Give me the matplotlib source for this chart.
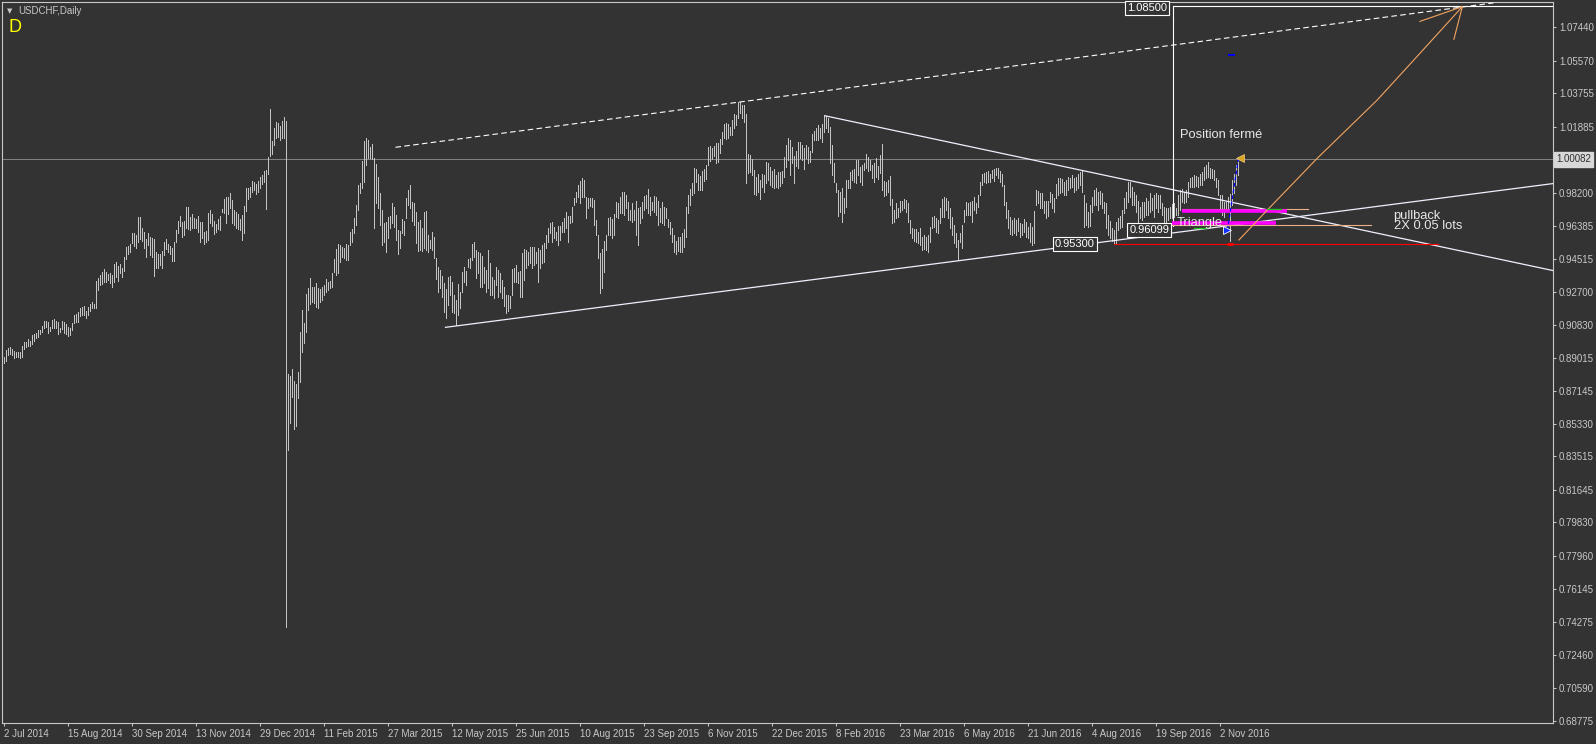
import matplotlib
matplotlib.use("Agg")
import matplotlib.pyplot as plt
import numpy as np

plt.rcParams['font.family'] = ['Liberation Sans', 'DejaVu Sans']

# daily highs / lows (USDCHF, one value per bar)
high_2014 = [
    0.8904, 0.8945, 0.8954, 0.8959, 0.8950, 0.8939, 0.8935, 0.8931, 0.8931, 0.8967,
    0.8987, 0.8987, 0.9006, 0.8994, 0.9028, 0.9034, 0.9041, 0.9056, 0.9056, 0.9080,
    0.9106, 0.9106, 0.9103, 0.9075, 0.9110, 0.9117, 0.9106, 0.9099, 0.9069, 0.9106,
    0.9099, 0.9088, 0.9073, 0.9069, 0.9093, 0.9140, 0.9145, 0.9158, 0.9177, 0.9184,
    0.9190, 0.9162, 0.9186, 0.9199, 0.9210, 0.9199, 0.9329, 0.9344, 0.9363, 0.9381,
    0.9396, 0.9378, 0.9368, 0.9372, 0.9363, 0.9424, 0.9437, 0.9413, 0.9424, 0.9404,
    0.9461, 0.9517, 0.9525, 0.9534, 0.9599, 0.9599, 0.9586, 0.9686, 0.9686, 0.9623,
    0.9604, 0.9564, 0.9595, 0.9575, 0.9567, 0.9564, 0.9493, 0.9480, 0.9480, 0.9497,
    0.9549, 0.9562, 0.9536, 0.9525, 0.9512, 0.9549, 0.9614, 0.9664, 0.9692, 0.9660,
    0.9664, 0.9740, 0.9740, 0.9684, 0.9703, 0.9679, 0.9673, 0.9692, 0.9657, 0.9660,
    0.9604, 0.9610, 0.9710, 0.9725, 0.9703, 0.9666, 0.9645, 0.9673, 0.9692, 0.9729,
    0.9787, 0.9798, 0.9798, 0.9818, 0.9779, 0.9725, 0.9716, 0.9703, 0.9673, 0.9698,
    0.9748, 0.9848, 0.9848, 0.9853, 0.9887, 0.9880, 0.9868, 0.9887, 0.9909, 0.9920,
    0.9943,
]
low_2014 = [
    0.8874, 0.8885, 0.8916, 0.8922, 0.8916, 0.8902, 0.8907, 0.8904, 0.8898, 0.8907,
    0.8950, 0.8959, 0.8968, 0.8968, 0.8976, 0.8997, 0.9010, 0.9019, 0.9034, 0.9047,
    0.9065, 0.9074, 0.9041, 0.9050, 0.9065, 0.9069, 0.9065, 0.9032, 0.9047, 0.9062,
    0.9038, 0.9034, 0.9025, 0.9028, 0.9056, 0.9093, 0.9103, 0.9103, 0.9136, 0.9140,
    0.9140, 0.9125, 0.9140, 0.9162, 0.9181, 0.9177, 0.9177, 0.9279, 0.9307, 0.9311,
    0.9322, 0.9325, 0.9335, 0.9316, 0.9298, 0.9322, 0.9353, 0.9329, 0.9372, 0.9353,
    0.9385, 0.9452, 0.9478, 0.9493, 0.9540, 0.9527, 0.9513, 0.9549, 0.9564, 0.9554,
    0.9511, 0.9465, 0.9530, 0.9474, 0.9461, 0.9359, 0.9400, 0.9400, 0.9419, 0.9400,
    0.9474, 0.9508, 0.9493, 0.9478, 0.9443, 0.9443, 0.9549, 0.9595, 0.9636, 0.9577,
    0.9586, 0.9623, 0.9618, 0.9614, 0.9623, 0.9623, 0.9623, 0.9604, 0.9549, 0.9567,
    0.9534, 0.9549, 0.9558, 0.9651, 0.9636, 0.9593, 0.9604, 0.9619, 0.9616, 0.9716,
    0.9707, 0.9651, 0.9701, 0.9738, 0.9651, 0.9642, 0.9627, 0.9619, 0.9616, 0.9556,
    0.9595, 0.9722, 0.9785, 0.9800, 0.9828, 0.9837, 0.9815, 0.9828, 0.9846, 0.9868,
    0.9880,
]
high_2015 = [
    0.9946, 1.0021, 1.0288, 1.0110, 1.0181, 1.0214, 1.0209, 1.0196, 1.0222, 1.0242,
    1.0222, 0.8809, 0.8800, 0.8839, 0.8772, 0.8755, 0.8824, 0.9043, 0.9168, 0.9093,
    0.9255, 0.9292, 0.9348, 0.9298, 0.9294, 0.9316, 0.9292, 0.9285, 0.9298, 0.9307,
    0.9339, 0.9326, 0.9329, 0.9372, 0.9452, 0.9508, 0.9536, 0.9530, 0.9521, 0.9512,
    0.9534, 0.9530, 0.9601, 0.9618, 0.9679, 0.9753, 0.9865, 0.9874, 0.9999, 1.0110,
    1.0129, 1.0116, 1.0079, 1.0092, 1.0017, 0.9982, 0.9907, 0.9818, 0.9725, 0.9651,
    0.9660, 0.9688, 0.9694, 0.9762, 0.9740, 0.9698, 0.9614, 0.9608, 0.9675, 0.9664,
    0.9790, 0.9837, 0.9865, 0.9772, 0.9762, 0.9716, 0.9660, 0.9670, 0.9623, 0.9716,
    0.9720, 0.9586, 0.9558, 0.9604, 0.9577, 0.9456, 0.9409, 0.9391, 0.9357, 0.9320,
    0.9283, 0.9354, 0.9359, 0.9326, 0.9251, 0.9223, 0.9311, 0.9266, 0.9378, 0.9406,
    0.9387, 0.9452, 0.9460, 0.9536, 0.9549, 0.9502, 0.9493, 0.9484, 0.9469, 0.9409,
    0.9391, 0.9502, 0.9428, 0.9354, 0.9335, 0.9406, 0.9391, 0.9372, 0.9335, 0.9298,
    0.9251, 0.9251, 0.9248, 0.9394, 0.9400, 0.9419, 0.9381, 0.9385, 0.9484, 0.9508,
    0.9502, 0.9493, 0.9521, 0.9517, 0.9521, 0.9493, 0.9515, 0.9502, 0.9530, 0.9540,
    0.9586, 0.9623, 0.9651, 0.9660, 0.9632, 0.9604, 0.9636, 0.9636, 0.9660, 0.9679,
    0.9716, 0.9694, 0.9694, 0.9744, 0.9790, 0.9828, 0.9865, 0.9887, 0.9902, 0.9892,
    0.9800, 0.9790, 0.9794, 0.9790, 0.9781, 0.9670, 0.9586, 0.9484, 0.9508, 0.9552,
    0.9586, 0.9679, 0.9688, 0.9675, 0.9701, 0.9772, 0.9762, 0.9800, 0.9828, 0.9828,
    0.9809, 0.9772, 0.9725, 0.9762, 0.9725, 0.9776, 0.9735, 0.9744, 0.9772, 0.9804,
    0.9809, 0.9841, 0.9800, 0.9772, 0.9804, 0.9796, 0.9776, 0.9735, 0.9772, 0.9744,
    0.9735, 0.9673, 0.9657, 0.9627, 0.9586, 0.9554, 0.9577, 0.9577, 0.9595, 0.9618,
    0.9740, 0.9809, 0.9841, 0.9874, 0.9958, 0.9954, 0.9924, 0.9917, 0.9943, 0.9954,
    0.9976, 1.0078, 1.0084, 1.0069, 1.0084, 1.0097, 1.0101, 1.0121, 1.0158, 1.0205,
    1.0212, 1.0203, 1.0190, 1.0227, 1.0259, 1.0255, 1.0326, 1.0326, 1.0311, 1.0311,
    1.0261, 1.0036, 1.0032, 1.0008, 0.9948, 0.9911, 0.9924, 0.9893, 0.9924, 0.9920,
    0.9995, 0.9986, 0.9967, 0.9943, 0.9954, 0.9920, 0.9939, 0.9935, 0.9943, 1.0023,
    1.0088,
]
low_2015 = [
    0.9731, 0.9928, 1.0028, 1.0036, 1.0088, 1.0129, 1.0134, 1.0116, 1.0125, 1.0129,
    0.7400, 0.8387, 0.8536, 0.8685, 0.8502, 0.8523, 0.8679, 0.8765, 0.8934, 0.8982,
    0.9043, 0.9168, 0.9199, 0.9214, 0.9205, 0.9186, 0.9177, 0.9214, 0.9223, 0.9251,
    0.9270, 0.9279, 0.9288, 0.9298, 0.9381, 0.9363, 0.9372, 0.9437, 0.9465, 0.9456,
    0.9447, 0.9447, 0.9530, 0.9549, 0.9595, 0.9642, 0.9725, 0.9818, 0.9846, 0.9883,
    0.9976, 1.0014, 1.0014, 1.0008, 0.9623, 0.9762, 0.9735, 0.9642, 0.9530, 0.9549,
    0.9489, 0.9567, 0.9623, 0.9651, 0.9632, 0.9558, 0.9478, 0.9512, 0.9595, 0.9586,
    0.9679, 0.9753, 0.9735, 0.9664, 0.9642, 0.9540, 0.9497, 0.9502, 0.9497, 0.9512,
    0.9502, 0.9493, 0.9512, 0.9502, 0.9456, 0.9339, 0.9270, 0.9288, 0.9242, 0.9158,
    0.9121, 0.9196, 0.9251, 0.9158, 0.9149, 0.9084, 0.9140, 0.9177, 0.9270, 0.9326,
    0.9307, 0.9409, 0.9400, 0.9447, 0.9465, 0.9344, 0.9372, 0.9298, 0.9298, 0.9316,
    0.9270, 0.9288, 0.9251, 0.9251, 0.9233, 0.9307, 0.9242, 0.9270, 0.9233, 0.9192,
    0.9149, 0.9162, 0.9177, 0.9251, 0.9326, 0.9326, 0.9316, 0.9242, 0.9242, 0.9335,
    0.9400, 0.9419, 0.9428, 0.9400, 0.9419, 0.9428, 0.9326, 0.9400, 0.9428, 0.9437,
    0.9512, 0.9549, 0.9595, 0.9549, 0.9567, 0.9558, 0.9530, 0.9558, 0.9604, 0.9604,
    0.9623, 0.9549, 0.9651, 0.9660, 0.9753, 0.9772, 0.9800, 0.9762, 0.9800, 0.9800,
    0.9679, 0.9735, 0.9749, 0.9744, 0.9642, 0.9586, 0.9456, 0.9261, 0.9288, 0.9381,
    0.9502, 0.9586, 0.9586, 0.9567, 0.9586, 0.9688, 0.9683, 0.9707, 0.9707, 0.9698,
    0.9735, 0.9670, 0.9670, 0.9660, 0.9670, 0.9586, 0.9530, 0.9651, 0.9679, 0.9725,
    0.9735, 0.9710, 0.9698, 0.9725, 0.9712, 0.9698, 0.9642, 0.9660, 0.9651, 0.9642,
    0.9679, 0.9632, 0.9590, 0.9549, 0.9493, 0.9478, 0.9497, 0.9493, 0.9493, 0.9521,
    0.9577, 0.9710, 0.9753, 0.9809, 0.9818, 0.9883, 0.9837, 0.9837, 0.9837, 0.9887,
    0.9896, 0.9976, 1.0001, 1.0010, 1.0028, 0.9989, 0.9995, 1.0041, 1.0092, 1.0125,
    1.0119, 1.0125, 1.0144, 1.0144, 1.0181, 1.0199, 1.0236, 1.0264, 1.0236, 1.0218,
    0.9874, 0.9930, 0.9939, 0.9920, 0.9813, 0.9809, 0.9828, 0.9785, 0.9855, 0.9828,
    0.9874, 0.9893, 0.9865, 0.9855, 0.9850, 0.9855, 0.9846, 0.9861, 0.9874, 0.9911,
    0.9967,
]
high_2016 = [
    1.0129, 1.0116, 1.0079, 1.0028, 1.0054, 1.0106, 1.0106, 1.0088, 1.0073, 1.0088,
    1.0079, 1.0054, 1.0147, 1.0166, 1.0181, 1.0199, 1.0181, 1.0203, 1.0251, 1.0251,
    1.0236, 1.0190, 1.0088, 0.9986, 0.9874, 0.9837, 0.9824, 0.9846, 0.9794, 0.9893,
    0.9893, 0.9939, 0.9948, 0.9954, 1.0004, 1.0004, 0.9967, 0.9976, 0.9986, 1.0036,
    1.0023, 1.0004, 0.9976, 0.9986, 1.0013, 0.9972, 1.0032, 1.0092, 0.9887, 0.9883,
    0.9893, 0.9915, 0.9787, 0.9725, 0.9762, 0.9735, 0.9776, 0.9776, 0.9787, 0.9781,
    0.9762, 0.9670, 0.9627, 0.9618, 0.9618, 0.9604, 0.9623, 0.9577, 0.9586, 0.9577,
    0.9586, 0.9632, 0.9688, 0.9694, 0.9679, 0.9670, 0.9738, 0.9787, 0.9800, 0.9794,
    0.9776, 0.9735, 0.9688, 0.9642, 0.9595, 0.9558, 0.9595, 0.9642, 0.9725, 0.9772,
    0.9762, 0.9768, 0.9776, 0.9800, 0.9762, 0.9809, 0.9880, 0.9924, 0.9930, 0.9935,
    0.9943, 0.9924, 0.9948, 0.9954, 0.9958, 0.9958, 0.9943, 0.9924, 0.9865, 0.9772,
    0.9725, 0.9688, 0.9670, 0.9683, 0.9670, 0.9683, 0.9651, 0.9645, 0.9675, 0.9657,
    0.9632, 0.9651, 0.9632, 0.9720, 0.9837, 0.9831, 0.9822, 0.9818, 0.9776, 0.9776,
    0.9776, 0.9828, 0.9813, 0.9790, 0.9868, 0.9902, 0.9902, 0.9898, 0.9880, 0.9893,
    0.9911, 0.9906, 0.9920, 0.9906, 0.9911, 0.9924, 0.9939, 0.9948, 0.9809, 0.9762,
    0.9716, 0.9753, 0.9800, 0.9837, 0.9846, 0.9828, 0.9831, 0.9818, 0.9772, 0.9762,
    0.9698, 0.9664, 0.9627, 0.9614, 0.9660, 0.9683, 0.9694, 0.9725, 0.9790, 0.9828,
    0.9880, 0.9880, 0.9855, 0.9828, 0.9809, 0.9776, 0.9744, 0.9772, 0.9772, 0.9790,
    0.9776, 0.9818, 0.9790, 0.9809, 0.9818, 0.9809, 0.9809, 0.9762, 0.9744, 0.9735,
    0.9735, 0.9744, 0.9757, 0.9762, 0.9735, 0.9809, 0.9837, 0.9842, 0.9828, 0.9837,
    0.9880, 0.9902, 0.9911, 0.9920, 0.9917, 0.9911, 0.9924, 0.9939, 0.9967, 0.9976,
    0.9995, 0.9958, 0.9954, 0.9948, 0.9902, 0.9893, 0.9809, 0.9809, 0.9772, 0.9772,
    0.9800, 0.9813, 0.9893, 0.9924, 0.9976, 1.0023,
]
low_2016 = [
    1.0004, 0.9920, 0.9986, 0.9874, 0.9973, 0.9961, 1.0014, 1.0004, 0.9954, 1.0014,
    0.9986, 0.9991, 1.0051, 1.0116, 1.0116, 1.0116, 1.0125, 1.0106, 1.0158, 1.0181,
    1.0162, 0.9986, 0.9920, 0.9883, 0.9828, 0.9694, 0.9716, 0.9660, 0.9707, 0.9744,
    0.9846, 0.9846, 0.9893, 0.9880, 0.9874, 0.9920, 0.9883, 0.9865, 0.9948, 0.9961,
    0.9943, 0.9948, 0.9902, 0.9880, 0.9911, 0.9898, 0.9930, 0.9837, 0.9805, 0.9809,
    0.9828, 0.9753, 0.9651, 0.9660, 0.9679, 0.9688, 0.9716, 0.9725, 0.9735, 0.9716,
    0.9657, 0.9595, 0.9567, 0.9552, 0.9549, 0.9540, 0.9530, 0.9502, 0.9508, 0.9502,
    0.9493, 0.9549, 0.9623, 0.9632, 0.9604, 0.9595, 0.9651, 0.9688, 0.9688, 0.9725,
    0.9679, 0.9623, 0.9586, 0.9540, 0.9521, 0.9447, 0.9549, 0.9512, 0.9660, 0.9698,
    0.9698, 0.9698, 0.9660, 0.9725, 0.9707, 0.9744, 0.9809, 0.9865, 0.9880, 0.9874,
    0.9883, 0.9880, 0.9902, 0.9887, 0.9920, 0.9902, 0.9883, 0.9861, 0.9753, 0.9679,
    0.9627, 0.9590, 0.9586, 0.9595, 0.9586, 0.9608, 0.9577, 0.9586, 0.9604, 0.9577,
    0.9567, 0.9549, 0.9530, 0.9540, 0.9753, 0.9762, 0.9738, 0.9735, 0.9707, 0.9683,
    0.9694, 0.9768, 0.9735, 0.9716, 0.9790, 0.9809, 0.9818, 0.9828, 0.9809, 0.9809,
    0.9837, 0.9846, 0.9855, 0.9828, 0.9837, 0.9846, 0.9865, 0.9828, 0.9632, 0.9640,
    0.9628, 0.9636, 0.9716, 0.9753, 0.9753, 0.9725, 0.9757, 0.9735, 0.9707, 0.9623,
    0.9586, 0.9567, 0.9552, 0.9540, 0.9540, 0.9614, 0.9623, 0.9632, 0.9707, 0.9735,
    0.9772, 0.9800, 0.9753, 0.9753, 0.9716, 0.9651, 0.9679, 0.9670, 0.9688, 0.9698,
    0.9698, 0.9716, 0.9725, 0.9688, 0.9735, 0.9716, 0.9735, 0.9698, 0.9660, 0.9660,
    0.9670, 0.9679, 0.9679, 0.9688, 0.9698, 0.9698, 0.9725, 0.9772, 0.9762, 0.9772,
    0.9800, 0.9855, 0.9855, 0.9855, 0.9861, 0.9855, 0.9865, 0.9865, 0.9893, 0.9902,
    0.9911, 0.9902, 0.9902, 0.9893, 0.9855, 0.9809, 0.9735, 0.9698, 0.9688, 0.9725,
    0.9725, 0.9555, 0.9753, 0.9818, 0.9865, 0.9920,
]

date_labels = ['2 Jul 2014', '15 Aug 2014', '30 Sep 2014', '13 Nov 2014', '29 Dec 2014',
               '11 Feb 2015', '27 Mar 2015', '12 May 2015', '25 Jun 2015', '10 Aug 2015',
               '23 Sep 2015', '6 Nov 2015', '22 Dec 2015', '8 Feb 2016', '23 Mar 2016',
               '6 May 2016', '21 Jun 2016', '4 Aug 2016', '19 Sep 2016', '2 Nov 2016']
price_ticks = [1.07440, 1.05570, 1.03755, 1.01885, 0.98200, 0.96385, 0.94515, 0.92700,
               0.90830, 0.89015, 0.87145, 0.85330, 0.83515, 0.81645, 0.79830, 0.77960,
               0.76145, 0.74275, 0.72460, 0.70590, 0.68775]
last_price = 1.00082

# objects drawn on the chart, as (bar, price)
upper_dashed = ([196, 745], [1.0075, 1.0880])
support_line = ([221, 775], [0.9071, 0.9873])
resistance_line = ([410.6, 775], [1.0251, 0.9387])
range_box = (584.5, 0.9636, 1.0865)
tan_levels = [(589, 652, 0.9729), (584.3, 683.5, 0.9640)]
magenta_levels = [(589, 641.8, 0.9722), (584.3, 636, 0.9654)]
green_marks = [(631.8, 638.5, 0.9729), (595, 601.8, 0.9623)]
red_level = (555, 717, 0.9536)
red_mark = (611.5, 614.8, 0.9536)
tp_mark = (612, 615.5, 1.0590)
trade_line = ([612, 617.5], [0.9614, 1.0014])
orange_x = [617.7, 631.9, 656.9, 686.9, 705.2, 729.4]
orange_y = [0.9558, 0.9725, 1.0014, 1.0339, 1.0562, 1.0859]
orange_head_x = [708.2, 729.4, 725.2]
orange_head_y = [1.0777, 1.0859, 1.0677]

BG = '#333333'
FG = '#c8c8c8'

highs = np.array(high_2014 + high_2015 + high_2016)
lows = np.array(low_2014 + low_2015 + low_2016)
bars = np.arange(len(highs))

fig = plt.figure(figsize=(15.96, 7.44), dpi=100, facecolor=BG)
ax = fig.add_axes([2 / 1596, 21 / 744, 1551 / 1596, 721 / 744])
ax.set_facecolor(BG)
ax.set_xlim(-0.75, 774.75)
ax.set_ylim(0.68648, 1.08851)

ax.vlines(bars, lows, highs, colors='#c4c4c4', linewidth=0.5, antialiased=False, zorder=3)

ax.axhline(last_price, color='#808080', lw=0.75, zorder=2)

ax.plot(*upper_dashed, color='white', lw=0.8, ls=(0, (5, 3)), zorder=4)
ax.plot(*support_line, color='#f0f0ff', lw=0.9, zorder=4)
ax.plot(*resistance_line, color='#f0f0ff', lw=0.9, zorder=4)

bx, bbot, btop = range_box
ax.plot([bx, bx], [bbot, btop], color='white', lw=0.8, zorder=4)
ax.plot([bx, 775], [btop, btop], color='white', lw=0.8, zorder=4)

for x0, x1, p in tan_levels:
    ax.plot([x0, x1], [p, p], color='#e8b088', lw=0.8, zorder=4)
for x0, x1, p in magenta_levels:
    ax.plot([x0, x1], [p, p], color='#ff00ff', lw=2.6, solid_capstyle='butt', zorder=5)
for x0, x1, p in green_marks:
    ax.plot([x0, x1], [p, p], color='#20c020', lw=0.9, zorder=6)

ax.plot([red_level[0], red_level[1]], [red_level[2]] * 2, color='#ff0000', lw=0.8, zorder=4)
ax.plot([red_mark[0], red_mark[1]], [red_mark[2]] * 2, color='#ff0000', lw=2.0,
        solid_capstyle='butt', zorder=5)
ax.plot([tp_mark[0], tp_mark[1]], [tp_mark[2]] * 2, color='#0000ff', lw=1.4,
        solid_capstyle='butt', zorder=5)

ax.plot(*trade_line, color='#0000ff', lw=0.9, ls=(0, (3, 2)), zorder=6)
ax.plot(trade_line[0][0] - 0.5, trade_line[1][0], marker='>', ms=6, color='#1030ff',
        mec='white', mew=0.6, zorder=7)
ax.plot(trade_line[0][1] + 0.5, trade_line[1][1], marker='<', ms=6, color='#daa520',
        mec='#f0d080', mew=0.5, zorder=7)

ax.plot(orange_x, orange_y, color='#f4a460', lw=0.8, zorder=5)
ax.plot(orange_head_x, orange_head_y, color='#f4a460', lw=0.8, zorder=5)

txt = dict(color='#e8e8e8', fontsize=9.3, va='center', ha='left', zorder=8)
ax.text(588.5, 1.0143, 'Position fermé', **txt)
ax.text(586.8, 0.9653, 'Triangle', **txt)
ax.text(695, 0.9694, 'pullback', **txt)
ax.text(695, 0.9636, '2X 0.05 lots', **txt)

box = dict(boxstyle='square,pad=0.18', fc=BG, ec='white', lw=0.8)
lab = dict(color='white', fontsize=8, va='center', ha='right', bbox=box, zorder=8)
ax.text(545.5, 0.9536, '0.95300', **lab)
ax.text(582.8, 0.9614, '0.96099', **lab)
ax.text(581.8, 1.0849, '1.08500', **lab)

# axes styling
for s in ax.spines.values():
    s.set_color(FG)
    s.set_linewidth(0.8)
ax.yaxis.tick_right()
ax.set_yticks(price_ticks)
ax.set_yticklabels([f'{p:.5f}' for p in price_ticks])
ax.set_xticks(np.arange(len(date_labels)) * 32)
ax.set_xticklabels(date_labels)
for t in ax.get_xticklabels():
    t.set_horizontalalignment('left')
ax.tick_params(axis='both', colors=FG, labelcolor=FG, labelsize=7, width=0.75, length=2.2)
ax.tick_params(axis='y', pad=2.2)
ax.tick_params(axis='x', pad=2.4)

ax.annotate(f'{last_price:.5f}', xy=(1, last_price), xycoords=('axes fraction', 'data'),
            xytext=(2.2, 0), textcoords='offset points', va='center', ha='left',
            fontsize=7, color='#303030',
            bbox=dict(boxstyle='square,pad=0.25', fc='#d8d8d8', ec='#d8d8d8'))

fig.text(9.5 / 1596, 1 - 11 / 744, '▼', color=FG, fontsize=5, ha='center', va='center',
         family='DejaVu Sans')
fig.text(18 / 1596, 1 - 11 / 744, 'USDCHF,Daily', color=FG, fontsize=7, va='center')
fig.text(8 / 1596, 1 - 28 / 744, 'D', color='#ffff00', fontsize=13, va='center')

fig.savefig('out.png', dpi=100, facecolor=BG)
